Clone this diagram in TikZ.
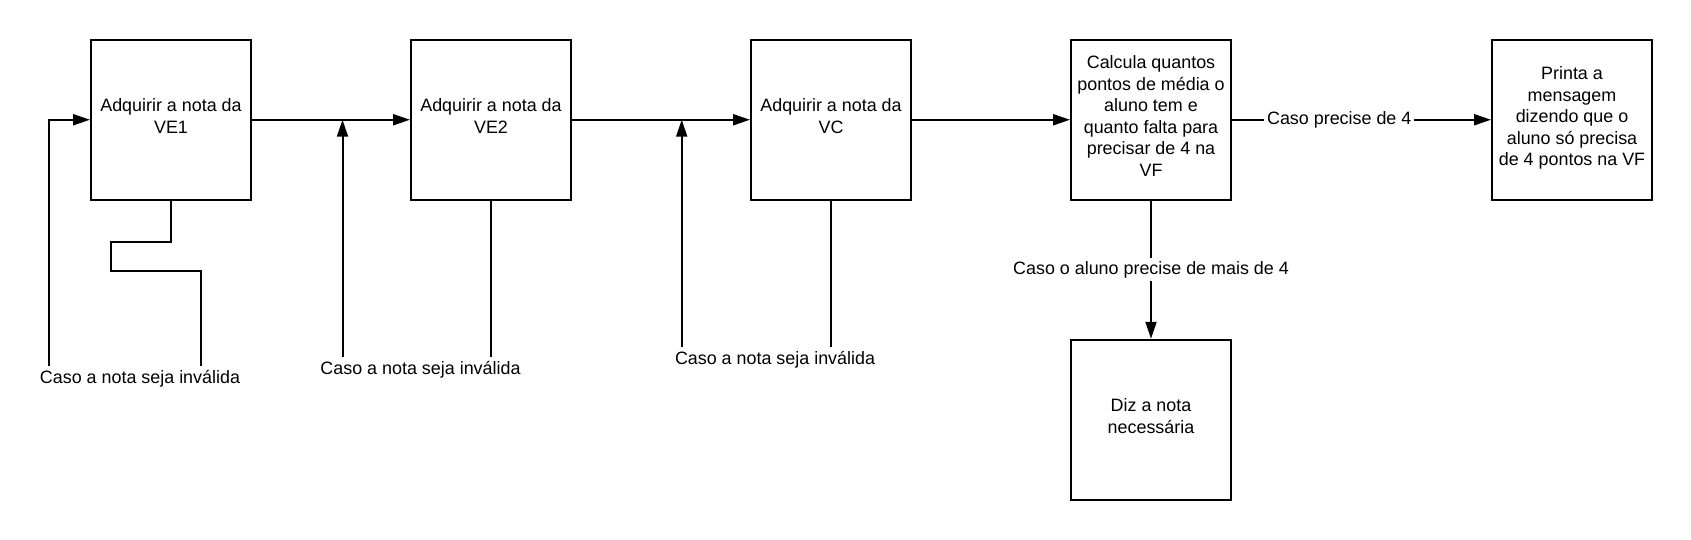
\documentclass[tikz,border=0pt]{standalone}
\usepackage{fontspec}
\setmainfont{Liberation Sans}
\usetikzlibrary{arrows.meta,positioning}

\begin{document}
\begin{tikzpicture}[x=1pt,y=-1pt,>={Triangle[length=17pt,width=11pt]},line width=2pt,
    font=\fontsize{17.9pt}{21.5pt}\selectfont,node distance=158pt,
    box/.style={rectangle,draw,minimum size=160pt,inner sep=0pt,align=center,text depth=7pt},
    note/.style={anchor=base,inner sep=3pt}, cut/.style={fill=white,inner sep=3pt}]

  \useasboundingbox (0,0) rectangle (1691,540);

  \node[box] (ve1) at (171,119.75) {Adquirir a nota da\\VE1};
  \node[box] (ve2) [right=of ve1] {Adquirir a nota da\\VE2};
  \node[box] (vc) [right=178pt of ve2] {Adquirir a nota da\\VC};
  \node[box] (calc) [right=of vc] {Calcula quantos\\pontos de média o\\aluno tem e\\quanto falta para\\precisar de 4 na\\VF};
  \node[box] (printa) [right=259pt of calc] {Printa a\\mensagem\\dizendo que o\\aluno só precisa\\de 4 pontos na VF};
  \node[box] (diz) [below=138pt of calc] {Diz a nota\\necessária};

  \node[note] (inv1) at (140,383) {Caso a nota seja inválida};
  \node[note] (inv2) at (420.5,374) {Caso a nota seja inválida};
  \node[note] (inv3) at (775,364) {Caso a nota seja inválida};

  \path[->]
        (ve1) edge (ve2)
        (ve2) edge (vc)
        (vc) edge (calc)
        (calc) edge node[cut,pos=0.414] {Caso precise de 4} (printa)
        (calc) edge node[cut] {Caso o aluno precise de mais de 4} (diz);

  \draw[->] ([xshift=13pt]inv1.north west) |- (ve1);
  \draw (ve1.south) -- ++(0,41.2) -- ++(-60,0) -- ++(0,29.3) -- ++(90,0) -- ([xshift=61pt]inv1.north);

  \draw[->] ([xshift=-78pt]inv2.north) -- ([xshift=-78pt]inv2.north |- ve2);
  \draw (ve2.south) -- (ve2.south |- inv2.north);

  \draw[->] ([xshift=-93.3pt]inv3.north) -- ([xshift=-93.3pt]inv3.north |- vc);
  \draw (vc.south) -- (vc.south |- inv3.north);

\end{tikzpicture}
\end{document}
